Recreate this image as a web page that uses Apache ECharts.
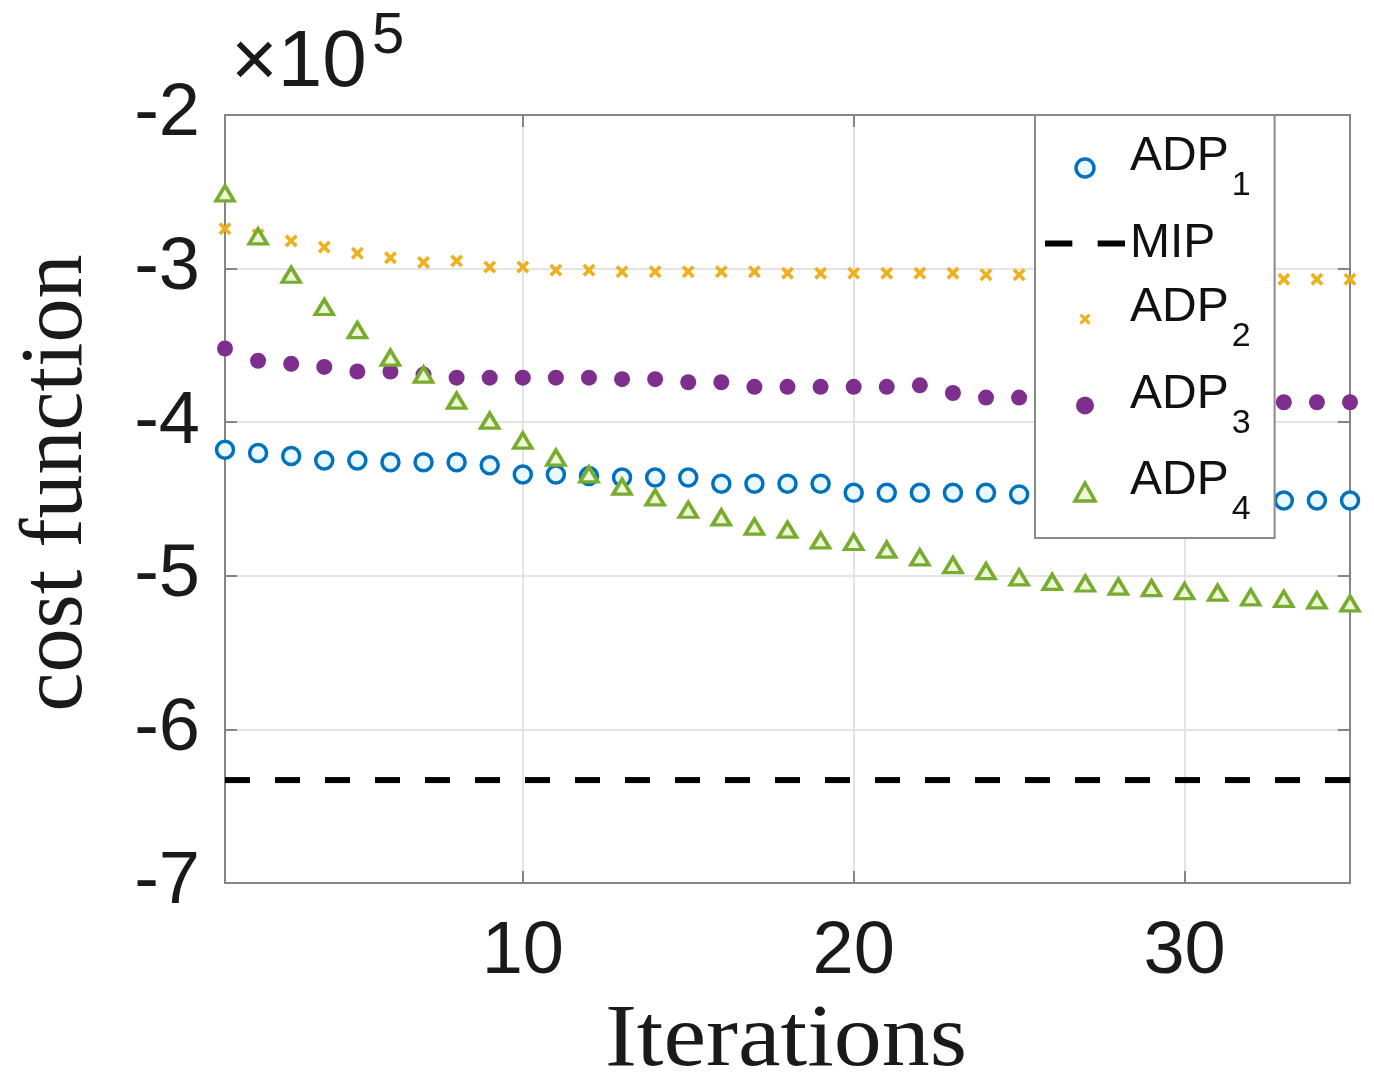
<!DOCTYPE html>
<html>
<head>
<meta charset="utf-8">
<script src="https://cdn.jsdelivr.net/npm/echarts@6/dist/echarts.min.js"></script>
<style>
html,body{margin:0;padding:0;background:#fff;}
#chart{width:1374px;height:1080px;}
</style>
</head>
<body>
<div id="chart"></div>
<script>
// ---- data (cost function values in units of 1e5) ----
var iterations = [1,2,3,4,5,6,7,8,9,10,11,12,13,14,15,16,17,18,19,20,21,22,23,24,25,26,27,28,29,30,31,32,33,34,35];
var adp1 = [-4.18,-4.20,-4.22,-4.25,-4.25,-4.26,-4.26,-4.26,-4.28,-4.34,-4.34,-4.35,-4.36,-4.36,-4.36,-4.40,-4.40,-4.40,-4.40,-4.46,-4.46,-4.46,-4.46,-4.46,-4.47,-4.47,-4.48,-4.48,-4.49,-4.49,-4.50,-4.50,-4.51,-4.51,-4.51];
var adp2 = [-2.74,-2.78,-2.82,-2.86,-2.90,-2.93,-2.96,-2.95,-2.99,-2.99,-3.01,-3.01,-3.02,-3.02,-3.02,-3.02,-3.02,-3.03,-3.03,-3.03,-3.03,-3.03,-3.03,-3.04,-3.04,-3.04,-3.05,-3.05,-3.05,-3.06,-3.06,-3.06,-3.07,-3.07,-3.07];
var adp3 = [-3.52,-3.60,-3.62,-3.64,-3.67,-3.67,-3.69,-3.71,-3.71,-3.71,-3.71,-3.71,-3.72,-3.72,-3.74,-3.74,-3.77,-3.77,-3.77,-3.77,-3.77,-3.76,-3.81,-3.84,-3.84,-3.84,-3.85,-3.85,-3.86,-3.86,-3.86,-3.87,-3.87,-3.87,-3.87];
var adp4 = [-2.51,-2.79,-3.04,-3.25,-3.40,-3.58,-3.69,-3.86,-3.99,-4.12,-4.23,-4.34,-4.42,-4.49,-4.57,-4.62,-4.68,-4.70,-4.77,-4.78,-4.83,-4.88,-4.93,-4.97,-5.01,-5.04,-5.05,-5.07,-5.08,-5.10,-5.11,-5.14,-5.15,-5.16,-5.18];
var mipValue = -6.33;
var xRange = [1, 35];
var yRange = [-7, -2];
var xTicks = [10, 20, 30];
var seriesNames = ['ADP1', 'MIP', 'ADP2', 'ADP3', 'ADP4'];

function pairs(ys) { return iterations.map(function (x, i) { return [x, ys[i]]; }); }

var axisGray = '#858585';
var gridGray = '#e4e4e4';
var tickFont = 'Liberation Sans, Arial, Helvetica, sans-serif';
var serifFont = 'Liberation Serif, Times New Roman, serif';
var xPath = 'path://M0,2L2,0L5,3L8,0L10,2L7,5L10,8L8,10L5,7L2,10L0,8L3,5Z';
var xPathLegend = 'path://M-3,-3M0,2L2,0L5,3L8,0L10,2L7,5L10,8L8,10L5,7L2,10L0,8L3,5ZM13,13';
var triPath = 'path://M5,0L10,9L0,9Z';
var dashPath = 'path://M0,0H27V6H0ZM52,0H79V6H52Z';

var c1 = '#0072BD', c2 = '#EDB120', c3 = '#7E2F8E', c4 = '#77AC30';

var chart = echarts.init(document.getElementById('chart'), null, {renderer: 'canvas'});
var option = {
  backgroundColor: '#ffffff',
  animation: false,
  grid: {left: 225, right: 24, top: 115, bottom: 197, containLabel: false},
  xAxis: [{
    type: 'value', min: xRange[0], max: xRange[1], position: 'bottom',
    axisLine: {show: true, onZero: false, lineStyle: {color: axisGray, width: 2}},
    axisTick: {show: true, inside: true, length: 12, customValues: xTicks, lineStyle: {color: axisGray, width: 2}},
    axisLabel: {show: true, customValues: xTicks, margin: 33, fontSize: 74, color: '#1a1a1a', fontFamily: tickFont},
    splitLine: {show: true, lineStyle: {color: gridGray, width: 2}}
  }, {
    type: 'value', min: xRange[0], max: xRange[1], position: 'top',
    axisLine: {show: true, onZero: false, lineStyle: {color: axisGray, width: 2}},
    axisTick: {show: true, inside: true, length: 12, customValues: xTicks, lineStyle: {color: axisGray, width: 2}},
    axisLabel: {show: false},
    splitLine: {show: false}
  }],
  yAxis: [{
    type: 'value', min: yRange[0], max: yRange[1], interval: 1, position: 'left',
    axisLine: {show: true, onZero: false, lineStyle: {color: axisGray, width: 2}},
    axisTick: {show: true, inside: true, length: 12, lineStyle: {color: axisGray, width: 2}},
    axisLabel: {show: true, margin: 25, fontSize: 74, color: '#1a1a1a', fontFamily: tickFont},
    splitLine: {show: true, lineStyle: {color: gridGray, width: 2}}
  }, {
    type: 'value', min: yRange[0], max: yRange[1], interval: 1, position: 'right',
    axisLine: {show: true, onZero: false, lineStyle: {color: axisGray, width: 2}},
    axisTick: {show: true, inside: true, length: 12, lineStyle: {color: axisGray, width: 2}},
    axisLabel: {show: false},
    splitLine: {show: false}
  }],
  legend: {
    orient: 'vertical',
    left: 1035, top: 115,
    z: 20,
    padding: [18, 24, 11, 10],
    itemGap: 16.5,
    itemWidth: 80, itemHeight: 18,
    backgroundColor: '#ffffff',
    borderColor: '#8a8a8a', borderWidth: 2,
    data: [
      {name: 'ADP1', icon: 'circle', itemStyle: {color: '#eaf8ff', borderColor: c1, borderWidth: 3.5}},
      {name: 'MIP', icon: dashPath, itemStyle: {color: '#000000', borderWidth: 0}},
      {name: 'ADP2', icon: xPathLegend, itemStyle: {color: c2, borderWidth: 0}},
      {name: 'ADP3', icon: 'circle', itemStyle: {color: c3, borderWidth: 0}},
      {name: 'ADP4', icon: triPath, itemStyle: {color: '#eef8d6', borderColor: c4, borderWidth: 3.5}}
    ],
    formatter: function (name) {
      if (name === 'MIP') return '{m|MIP}';
      return '{a|ADP}{s|' + name.slice(3) + '}{h|\u200b}';
    },
    textStyle: {
      color: '#111', fontFamily: tickFont,
      rich: {
        a: {fontSize: 48, lineHeight: 48, verticalAlign: 'top', fontFamily: tickFont, color: '#111'},
        s: {fontSize: 34, lineHeight: 34, verticalAlign: 'bottom', padding: [0, 0, 0, 3], fontFamily: tickFont, color: '#111'},
        h: {fontSize: 2, lineHeight: 70, width: 0},
        m: {fontSize: 48, lineHeight: 48, fontFamily: tickFont, color: '#111'}
      }
    }
  },
  graphic: [
    {type: 'text', left: 231, top: 24, style: {text: '\u00d710', font: '80px ' + tickFont, fill: '#1a1a1a'}},
    {type: 'text', left: 372, top: 8, style: {text: '5', font: '58px ' + tickFont, fill: '#1a1a1a'}},
    {type: 'text', x: 58, y: 483, rotation: Math.PI / 2,
      style: {text: 'cost function', font: '88px ' + serifFont, fill: '#1a1a1a', textAlign: 'center', textVerticalAlign: 'middle'}},
    {type: 'text', x: 786, y: 1042, scaleX: 1.09,
      style: {text: 'Iterations', font: '88px ' + serifFont, fill: '#1a1a1a', textAlign: 'center', textVerticalAlign: 'middle'}}
  ],
  series: [
    {
      name: 'ADP1', type: 'scatter', data: pairs(adp1),
      symbol: 'circle', symbolSize: 17,
      itemStyle: {color: '#eaf8ff', borderColor: c1, borderWidth: 3.5, opacity: 1},
      z: 2
    },
    {
      name: 'MIP', type: 'line', data: [[xRange[0], mipValue], [xRange[1], mipValue]],
      symbol: 'none', showSymbol: false,
      lineStyle: {color: '#000000', width: 6, type: [25, 25]},
      itemStyle: {color: '#000000'},
      z: 2
    },
    {
      name: 'ADP2', type: 'scatter', data: pairs(adp2),
      symbol: xPath, symbolSize: 13,
      itemStyle: {color: c2, opacity: 1},
      z: 2
    },
    {
      name: 'ADP3', type: 'scatter', data: pairs(adp3),
      symbol: 'circle', symbolSize: 16,
      itemStyle: {color: c3, opacity: 1},
      z: 2
    },
    {
      name: 'ADP4', type: 'scatter', data: pairs(adp4),
      symbol: triPath, symbolSize: [18, 15],
      itemStyle: {color: '#eef8d6', borderColor: c4, borderWidth: 3.5, opacity: 1},
      z: 2
    }
  ]
};
chart.setOption(option);
</script>
</body>
</html>
